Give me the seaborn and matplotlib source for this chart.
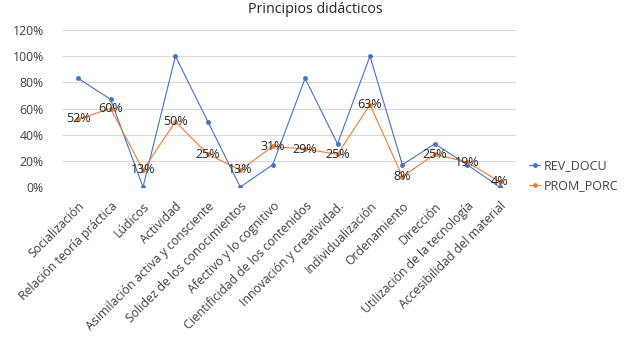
import matplotlib
matplotlib.use("Agg")
import matplotlib.pyplot as plt
import seaborn as sns
import pandas as pd
from matplotlib.ticker import PercentFormatter
from matplotlib.lines import Line2D

categories = ["Socialización", "Relación teoría práctica", "Lúdicos", "Actividad",
              "Asimilación activa y consciente", "Solidez de los conocimientos",
              "Afectivo y lo cognitivo", "Cientificidad de los contenidos",
              "Innovación y creatividad.", "Individualización", "Ordenamiento",
              "Dirección", "Utilización de la tecnología", "Accesibilidad del material"]
rev_docu = [0.83, 0.67, 0.0, 1.0, 0.5, 0.0, 0.17, 0.83, 0.33, 1.0, 0.17, 0.33, 0.17, 0.0]
prom_porc = [0.52, 0.60, 0.13, 0.50, 0.25, 0.13, 0.31, 0.29, 0.25, 0.63, 0.08, 0.25, 0.19, 0.04]
series_names = ["REV_DOCU", "PROM_PORC"]
yticks = [0, 0.2, 0.4, 0.6, 0.8, 1.0, 1.2]

sns.set_theme(style="white")
plt.rcParams['font.family'] = ['Open Sans', 'DejaVu Sans']

df = pd.DataFrame({
    "x": list(range(len(categories))) * 2,
    "value": rev_docu + prom_porc,
    "serie": [series_names[0]] * len(categories) + [series_names[1]] * len(categories),
})

fig = plt.figure(figsize=(6.26, 3.41), dpi=100)
ax = fig.add_axes([0.099, 0.4516, 0.725, 0.4604])
palette = {"REV_DOCU": "#4472C4", "PROM_PORC": "#ED7D31"}
sns.lineplot(data=df, x="x", y="value", hue="serie", palette=palette, marker="o",
             markersize=3.5, markeredgewidth=0, linewidth=0.8, ax=ax, legend=False)

for i, v in enumerate(prom_porc):
    ax.text(i, v, f"{round(v*100):.0f}%", ha="center", va="center",
            fontsize=9, color="#262626")

ax.set_xlim(-0.5, len(categories) - 0.5)
ax.set_ylim(0, 1.2)
ax.set_yticks(yticks)
ax.yaxis.set_major_formatter(PercentFormatter(1.0, decimals=0))
ax.set_xticks(range(len(categories)))
ax.set_xticklabels(categories, rotation=45, ha="right", rotation_mode="anchor")
ax.tick_params(axis="both", length=0, labelsize=8.8, labelcolor="#404040")
ax.tick_params(axis="x", pad=9)
ax.tick_params(axis="y", pad=13)
ax.grid(axis="y", color="#D9D9D9", linewidth=0.8)
ax.set_axisbelow(True)
for s in ax.spines.values():
    s.set_visible(False)
ax.set_xlabel("")
ax.set_ylabel("")

handles = [Line2D([0], [0], color=palette[n], marker="o", markersize=3.5,
                  markeredgewidth=0, linewidth=0.8) for n in series_names]
fig.legend(handles, series_names, loc="center left", bbox_to_anchor=(0.827, 0.484),
           frameon=False, fontsize=9, handlelength=0.9, handletextpad=0.3,
           labelspacing=0.55, labelcolor="#404040")

fig.text(0.504, 0.971, "Principios didácticos", ha="center", va="center",
         fontsize=10.3, color="#262626")

fig.savefig("out.png", dpi=100)
